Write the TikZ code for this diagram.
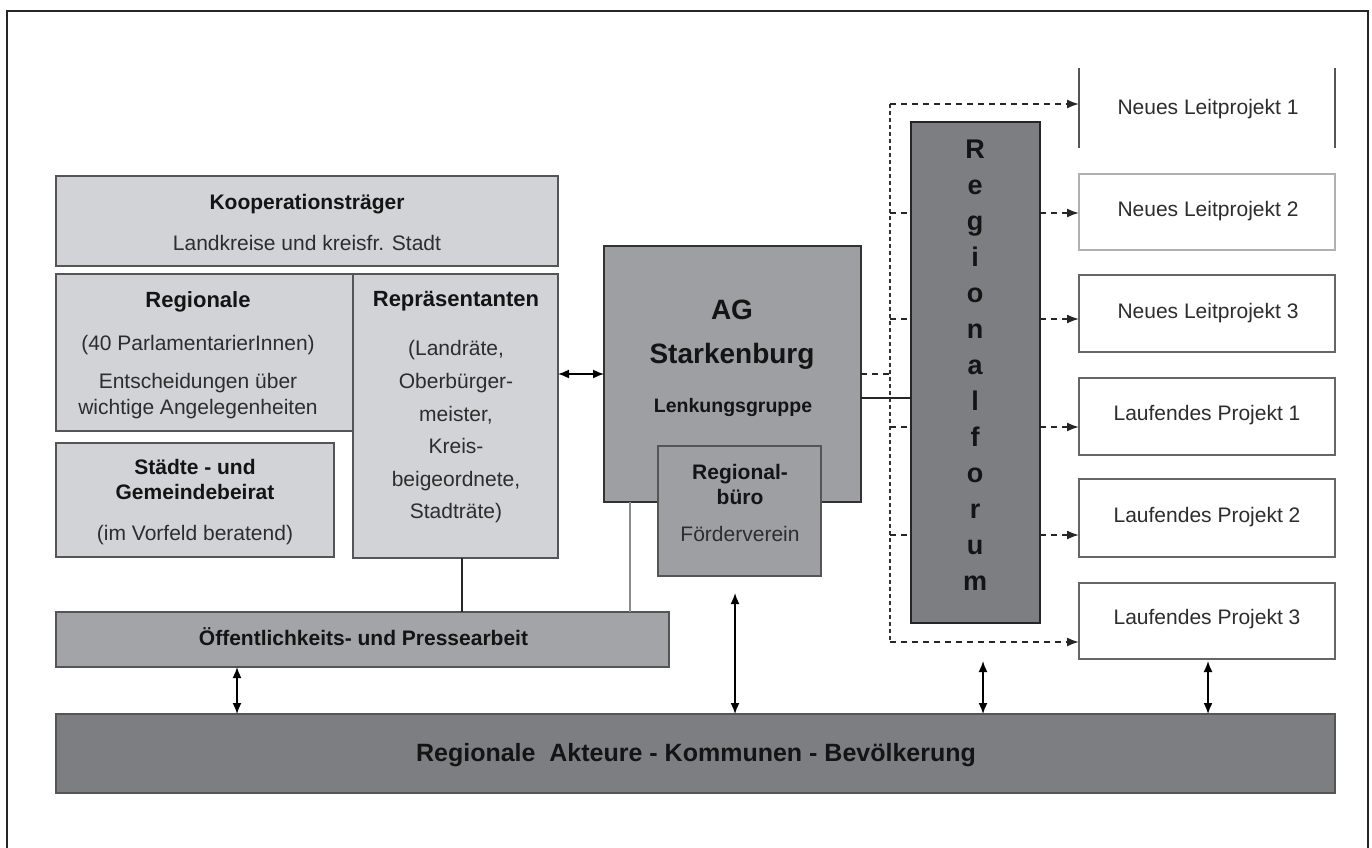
\documentclass[tikz,border=0pt]{standalone}
\usepackage{fontspec}
\setmainfont{Liberation Sans}
\usetikzlibrary{arrows.meta}
\definecolor{lightfill}{RGB}{209,211,214}
\definecolor{midfill}{RGB}{162,164,168}
\definecolor{agfill}{RGB}{157,159,163}
\definecolor{darkfill}{RGB}{124,126,129}
\definecolor{boxline}{RGB}{85,85,85}
\definecolor{paleline}{RGB}{176,176,176}
\definecolor{txtdark}{RGB}{20,20,20}
\definecolor{txtreg}{RGB}{45,45,45}
\tikzset{
  base/.style={line width=1.8bp, inner sep=0pt, outer sep=0pt},
  lbox/.style={base, draw=boxline, fill=lightfill},
  mbox/.style={base, draw=boxline, fill=midfill},
  agbox/.style={base, draw=black!80, fill=agfill},
  dbox/.style={base, draw=black!85, fill=darkfill, line width=2.2bp},
  wbox/.style={base, draw=boxline!90, fill=white},
  pbox/.style={base, draw=paleline, fill=white, line width=1.3bp},
  tx/.style={anchor=base, inner sep=0pt, text=txtreg, font=\fontsize{21bp}{25bp}\selectfont},
  tb/.style={anchor=base, inner sep=0pt, text=txtdark, font=\bfseries\fontsize{21bp}{25bp}\selectfont},
  tbig/.style={anchor=base, inner sep=0pt, text=txtdark, font=\bfseries\fontsize{28bp}{32bp}\selectfont},
  dblarrow/.style={{Latex[length=11bp,width=9bp]}-{Latex[length=11bp,width=9bp]}, line width=1.6bp, black},
  dasharrow/.style={-{Latex[length=12bp,width=9bp]}, line width=1.8bp, black!85, dash pattern=on 6bp off 5bp},
  dashstub/.style={line width=1.8bp, black!85, dash pattern=on 6bp off 5bp},
  dotline/.style={line width=2bp, black!80, dash pattern=on 3.5bp off 3.5bp},
  link/.style={line width=1.7bp, black!85},
  palelink/.style={line width=1.4bp, black!45},
  frame/.style={line width=2.6bp, black!85}
}
\begin{document}
\begin{tikzpicture}[x=1bp,y=-1bp]
\fill[white] (0,0) rectangle (1372,847);
\useasboundingbox (0,0) rectangle (1372,847);

% outer frame (open at the bottom)
\draw[frame] (7,860) -- (7,11) -- (1368,11) -- (1368,860);

% left group
\node[lbox, minimum width=502bp, minimum height=90bp] (koop) at (307,221) {};
\node[lbox, minimum width=297bp, minimum height=157bp] (regionale) at (204.5,352.5) {};
\node[lbox, minimum width=205bp, minimum height=284bp] (repr) at (455.5,416) {};
\node[lbox, minimum width=278bp, minimum height=114bp] (staedte) at (195,500) {};
\node[mbox, minimum width=613bp, minimum height=55bp] (oeff) at (362.5,639.5) {};
\node[dbox, line width=1.8bp, draw=boxline, minimum width=1279bp, minimum height=79bp] (bar) at (695.5,753.5) {};

% AG and Regionalbuero
\node[agbox, minimum width=257bp, minimum height=256bp] (ag) at (732.5,374) {};
\node[agbox, draw=boxline, minimum width=163bp, minimum height=130bp] (buero) at (739.5,511) {};

% Regionalforum
\node[dbox, minimum width=129bp, minimum height=501bp] (forum) at (975.5,372.5) {};

% project boxes
\node[base, minimum width=256bp, minimum height=80bp] (nl1) at (1207,108) {};
\draw[base, draw=boxline] (nl1.north west) -- (nl1.south west);
\draw[base, draw=boxline] (nl1.north east) -- (nl1.south east);
\node[pbox, minimum width=256bp, minimum height=76bp] (nl2) at (1207,212) {};
\node[wbox, minimum width=256bp, minimum height=77bp] (nl3) at (1207,313.5) {};
\node[wbox, minimum width=256bp, minimum height=77bp] (lp1) at (1207,416.5) {};
\node[wbox, minimum width=256bp, minimum height=78bp] (lp2) at (1207,518) {};
\node[wbox, minimum width=256bp, minimum height=76bp] (lp3) at (1207,621) {};

% texts
\node[tb] (koopA) at (307,209.5) {Kooperationsträger};
\node[tx] (koopB) at (307,250.5) {Landkreise und kreisfr. Stadt};

\node[tb, font=\bfseries\fontsize{22bp}{26bp}\selectfont] (regA) at (198,307) {Regionale};
\node[tx] (regB) at (198,350.5) {(40 ParlamentarierInnen)};
\node[tx] (regC) at (198,388.5) {Entscheidungen über};
\node[tx] (regD) at (198,414.5) {wichtige Angelegenheiten};

\node[tb, font=\bfseries\fontsize{22bp}{26bp}\selectfont] (repA) at (456,306) {Repräsentanten};
\node[tx] (repB) at (456,355.5) {(Landräte,};
\node[tx] (repC) at (456,388.5) {Oberbürger-};
\node[tx] (repD) at (456,421.5) {meister,};
\node[tx] (repE) at (456,453.5) {Kreis-};
\node[tx] (repF) at (456,486.5) {beigeordnete,};
\node[tx] (repG) at (456,518.5) {Stadträte)};

\node[tb] (stA) at (195,474.5) {Städte - und};
\node[tb] (stB) at (195,499.5) {Gemeindebeirat};
\node[tx] (stC) at (195,540.5) {(im Vorfeld beratend)};

\node[tb] (oeffT) at (363.5,645.5) {Öffentlichkeits- und Pressearbeit};
\node[tb, font=\bfseries\fontsize{25bp}{29bp}\selectfont] (barT) at (696,761) {Regionale\ \ Akteure - Kommunen - Bevölkerung};

\node[tbig] (agA) at (732,319) {AG};
\node[tbig] (agB) at (732,363) {Starkenburg};
\node[tb, font=\bfseries\fontsize{19.5bp}{23bp}\selectfont] (agC) at (733,412) {Lenkungsgruppe};

\node[tb] (buA) at (740,479.5) {Regional-};
\node[tb] (buB) at (740,504.5) {büro};
\node[tx] (buC) at (740,541.5) {Förderverein};

\node[inner sep=0pt, align=center, text=txtdark,
      font=\bfseries\fontsize{27bp}{36bp}\selectfont] (forumT) at (975,365)
  {R\\e\\g\\i\\o\\n\\a\\l\\f\\o\\r\\u\\m};

\node[tx] (nl1T) at (1208,114.5) {Neues Leitprojekt 1};
\node[tx] (nl2T) at (1208,216.5) {Neues Leitprojekt 2};
\node[tx] (nl3T) at (1208,318.5) {Neues Leitprojekt 3};
\node[tx] (lp1T) at (1207,420.5) {Laufendes Projekt 1};
\node[tx] (lp2T) at (1207,522.5) {Laufendes Projekt 2};
\node[tx] (lp3T) at (1207,624.5) {Laufendes Projekt 3};

% helper coordinates
\coordinate (xr) at (462,0);
\coordinate (xg) at (630,0);
\coordinate (xa) at (237,0);
\coordinate (xb) at (735,0);
\coordinate (xc) at (983,0);
\coordinate (xd) at (1208,0);
\coordinate (dtop) at (890,104);
\coordinate (dbot) at (890,642);
\coordinate (yA) at (0,213);
\coordinate (yB) at (0,319);
\coordinate (yC) at (0,427);
\coordinate (yD) at (0,535);
\coordinate (ys) at (0,398);

% connectors on the left
\draw[dblarrow] (repr.east |- ag.west) -- (ag.west);
\draw[link] (repr.south -| xr) -- (oeff.north -| xr);
\draw[palelink] (ag.south -| xg) -- (oeff.north -| xg);

% vertical double arrows to the bar
\draw[dblarrow] (oeff.south -| xa) -- (bar.north -| xa);
\draw[dblarrow, shorten <=17bp] (buero.south -| xb) -- (bar.north -| xb);
\draw[dblarrow, shorten <=38bp] (forum.south -| xc) -- (bar.north -| xc);
\draw[dblarrow, shorten <=2bp] (lp3.south -| xd) -- (bar.north -| xd);

% Regionalforum links
\draw[link] (ag.east |- ys) -- (forum.west |- ys);
\draw[dashstub] (ag.east) -- (dtop |- ag.east);
\draw[dotline] (dtop) -- (dbot);
\draw[dasharrow] (dtop) -- (nl1.west |- dtop);
\draw[dasharrow] (dbot) -- (lp3.west |- dbot);
\foreach \yy/\tgt in {yA/nl2, yB/nl3, yC/lp1, yD/lp2}{
  \draw[dashstub] (dtop |- \yy) -- (forum.west |- \yy);
  \draw[dasharrow] (forum.east |- \yy) -- (\tgt.west |- \yy);
}
\end{tikzpicture}
\end{document}
